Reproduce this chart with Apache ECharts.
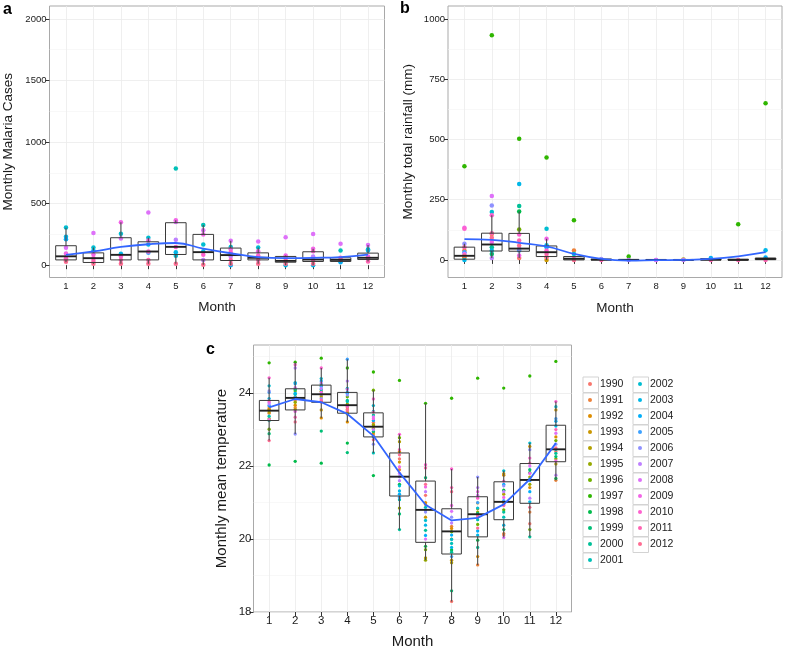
<!DOCTYPE html>
<html>
<head>
<meta charset="utf-8">
<script src="https://cdn.jsdelivr.net/npm/echarts@6/dist/echarts.min.js"></script>
<style>html,body{margin:0;padding:0;background:#fff}#main{width:785px;height:650px}</style>
</head>
<body>
<div id="main"></div>
<script>
// ---------------- data ----------------
const months = [1,2,3,4,5,6,7,8,9,10,11,12];
const years = [1990,1991,1992,1993,1994,1995,1996,1997,1998,1999,2000,2001,2002,2003,2004,2005,2006,2007,2008,2009,2010,2011,2012];

// panel a: monthly malaria cases, points per month as [year, value]
const casesPoints = [
  [[2002,306],[2003,230],[2004,211],[2008,141],[2009,95],[2010,57],[2011,40],[2012,27]],
  [[2008,261],[2002,144],[2003,118],[2009,87],[2010,57],[2011,33],[2012,11]],
  [[2009,348],[2002,255],[2008,217],[2003,92],[2010,71],[2011,43],[2012,11]],
  [[2008,427],[2002,223],[2009,201],[2003,168],[2010,111],[2005,100],[2011,43],[2012,11]],
  [[2001,785],[2009,364],[2008,350],[2007,207],[2010,147],[2003,106],[2002,76],[2012,11]],
  [[2001,326],[2008,283],[2009,250],[2002,168],[2003,114],[2010,84],[2007,43],[2012,3]],
  [[2008,198],[2002,147],[2009,130],[2010,106],[2007,71],[2011,43],[2012,11],[2004,0]],
  [[2008,193],[2002,144],[2009,114],[2010,79],[2011,43],[2012,11]],
  [[2008,226],[2009,79],[2010,60],[2011,38],[2012,11],[2003,0]],
  [[2008,253],[2009,133],[2010,114],[2007,71],[2011,43],[2012,11],[2003,0]],
  [[2008,174],[2001,120],[2010,60],[2011,45],[2004,24]],
  [[2008,163],[2002,130],[2003,120],[2009,71],[2010,52],[2011,30]]
];
// [lower whisker, Q1, median, Q3, upper whisker]
const casesBox = [
  [24,43,72,158,304],[11,22,57,100,144],[11,43,84,223,348],[11,43,111,190,223],
  [11,87,149,345,364],[3,43,106,250,326],[0,38,82,139,198],[11,43,60,100,144],
  [0,24,35,71,79],[0,30,46,109,133],[24,30,43,60,60],[30,46,60,98,163]
];
const casesSmooth = [84,112,148,170,180,134,97,66,58,60,66,85];
const casesTicks = [0,500,1000,1500,2000];
const casesMinor = [250,750,1250,1750];

// panel b: monthly total rainfall (mm)
const rainPoints = [
  [[1997,389],[2009,133],[2010,129],[2006,67],[2011,53],[1991,39],[2005,32],[2008,25],[2012,18],[1993,10],[2003,0]],
  [[1997,933],[2008,265],[2006,226],[2002,199],[2010,185],[2011,111],[1991,108],[2012,92],[2009,74],[2000,53],[2003,39],[1999,25],[2007,8]],
  [[1997,503],[2003,315],[2000,224],[1998,201],[1996,126],[2010,106],[2011,81],[2012,60],[2006,46],[2005,39],[2009,18],[1990,8]],
  [[1997,425],[2002,129],[2009,88],[2003,61],[2004,53],[2010,39],[2011,25],[2012,11],[1993,0]],
  [[1997,165],[1991,39],[2002,25],[2010,4],[2012,0]],
  [[2006,4],[2011,0]],
  [[1997,14],[2007,0]],
  [[2008,0],[2006,0]],
  [[1994,2],[2007,0]],
  [[2004,8],[2011,0]],
  [[1997,148],[2011,0]],
  [[1997,650],[2003,40],[2004,10],[2011,0]]
];
const rainBox = [
  [0,3,17,53,67],[8,37,64,111,185],[8,36,47,110,201],[0,14,32,58,88],
  [0,0,5,14,14],[0,0,1,3,4],[0,0,0,2,2],[0,0,0,1,1],
  [0,0,0,1,2],[0,0,1,5,8],[0,0,0,3,3],[0,1,4,8,10]
];
const rainSmooth = [86,83,71,56,25,4,-3,-1,0,4,15,32];
const rainTicks = [0,250,500,750,1000];
const rainMinor = [125,375,625,875];

// panel c: monthly mean temperature, one value per year (1990..2012) for each month
const tempByMonth = [
  [23.62,23.45,23.57,23.55,23.48,23.30,23.01,24.83,22.03,22.89,23.25,23.37,24.20,23.85,23.66,24.02,24.06,23.70,23.75,23.27,24.42,23.79,22.70],
  [23.80,23.60,23.67,23.90,23.55,23.75,24.06,24.85,22.13,24.10,23.85,23.97,24.29,24.00,24.26,23.88,22.88,24.69,24.15,23.50,24.78,23.34,23.21],
  [23.95,23.78,23.32,23.54,23.90,24.05,24.20,24.96,22.08,22.96,24.25,24.10,24.40,23.98,24.33,24.18,23.85,24.13,24.28,24.02,24.69,23.81,23.76],
  [23.50,23.60,23.21,23.45,23.43,23.70,23.90,24.69,22.63,22.37,23.80,23.77,24.13,24.02,24.00,24.93,23.95,24.33,24.10,23.64,23.66,23.54,23.55],
  [23.20,22.85,22.91,23.03,23.14,23.10,24.08,24.58,21.74,22.95,23.40,22.36,23.66,23.50,23.25,22.80,22.60,23.00,23.35,23.30,23.84,23.48,22.72],
  [22.20,21.90,22.40,22.11,22.67,20.85,22.78,24.35,21.50,20.69,20.26,21.08,21.46,21.32,21.23,21.14,21.71,21.60,21.80,21.98,22.87,22.45,22.31],
  [21.20,20.95,21.00,20.60,19.48,19.42,19.71,23.72,19.80,21.68,20.24,20.87,20.51,20.38,20.10,20.80,20.74,21.30,20.00,21.43,22.04,21.95,21.50],
  [18.29,20.35,20.29,19.42,19.35,20.00,20.20,23.86,19.70,18.58,19.64,19.88,19.99,19.77,20.11,19.52,20.60,20.44,20.76,20.92,21.92,21.41,21.30],
  [20.60,19.29,19.52,20.99,20.83,20.74,20.40,24.41,19.97,20.70,19.77,20.53,20.85,20.11,20.22,21.00,21.70,21.41,21.20,21.30,21.12,20.65,20.30],
  [20.11,20.15,21.75,21.79,21.23,21.00,20.80,24.14,21.34,20.26,20.74,20.60,21.87,20.38,21.50,21.05,21.46,21.30,20.04,21.14,21.59,20.92,20.95],
  [20.42,20.74,21.41,22.54,21.70,21.50,20.26,24.47,21.82,21.90,20.06,21.64,22.63,21.02,21.30,21.60,22.45,21.12,22.00,21.80,22.22,22.08,20.87],
  [22.40,21.61,22.80,23.54,22.06,22.20,22.70,24.87,21.66,22.26,22.35,22.46,23.63,23.10,23.23,23.30,22.60,21.75,22.90,22.14,23.77,23.00,22.50]
];
const tempBox = [
  [22.70,23.25,23.52,23.80,24.42],[22.88,23.54,23.87,24.12,24.85],[23.32,23.75,23.97,24.22,24.69],[23.21,23.45,23.67,24.02,24.93],
  [22.36,22.80,23.08,23.46,24.08],[20.26,21.18,21.71,22.36,22.87],[19.42,19.91,20.80,21.59,23.72],[18.29,19.59,20.21,20.83,21.92],
  [19.29,20.06,20.68,21.16,21.70],[20.04,20.53,21.02,21.57,21.87],[20.06,20.98,21.62,22.07,22.63],[21.61,22.12,22.46,23.12,23.77]
];
const tempSmooth = [23.61,23.84,23.75,23.43,22.83,21.82,20.94,20.51,20.58,20.95,21.64,22.63];
const tempTicks = [18,20,22,24];
const tempMinor = [19,21,23,25];

// ---------------- helpers ----------------
function hcl(h, c, l) {
  const hr = h * Math.PI / 180;
  const U = c * Math.cos(hr), V = c * Math.sin(hr);
  const Xn = 95.047, Yn = 100.0, Zn = 108.883;
  const den = Xn + 15 * Yn + 3 * Zn;
  const un = 4 * Xn / den, vn = 9 * Yn / den;
  const Y = l > 8 ? Yn * Math.pow((l + 16) / 116, 3) : Yn * l / 903.3;
  const u = U / (13 * l) + un, v = V / (13 * l) + vn;
  const X = 9 * Y * u / (4 * v);
  const Z = 3 * Y / v - X / 3 - 5 * Y;
  const x = X / 100, y = Y / 100, z = Z / 100;
  const lin = [
    3.240479 * x - 1.537150 * y - 0.498535 * z,
    -0.969256 * x + 1.875992 * y + 0.041556 * z,
    0.055648 * x - 0.204043 * y + 1.057311 * z
  ];
  return '#' + lin.map(t => {
    let s = t <= 0.0031308 ? 12.92 * t : 1.055 * Math.pow(t, 1 / 2.4) - 0.055;
    s = Math.max(0, Math.min(1, s));
    return Math.round(s * 255).toString(16).padStart(2, '0');
  }).join('');
}
const yearColor = {};
years.forEach((y, i) => { yearColor[y] = hcl(15 + i * 360 / years.length, 100, 65); });

const FONT = 'Liberation Sans, Arial, Helvetica, sans-serif';
const TXT = '#1a1a1a';
const plain = v => String(v);

function boxRender(params, api) {
  const x = api.value(0);
  const half = api.size([0.75, 0])[0] / 2;
  const lo = api.coord([x, api.value(1)]);
  const q1 = api.coord([x, api.value(2)]);
  const md = api.coord([x, api.value(3)]);
  const q3 = api.coord([x, api.value(4)]);
  const hi = api.coord([x, api.value(5)]);
  const wStyle = { stroke: '#4d4d4d', lineWidth: 1.1 };
  return {
    type: 'group',
    children: [
      { type: 'line', shape: { x1: lo[0], y1: lo[1], x2: q1[0], y2: q1[1] }, style: wStyle },
      { type: 'line', shape: { x1: q3[0], y1: q3[1], x2: hi[0], y2: hi[1] }, style: wStyle },
      { type: 'rect', shape: { x: q1[0] - half, y: q3[1], width: 2 * half, height: q1[1] - q3[1] },
        style: { stroke: '#3a3a3a', fill: 'none', lineWidth: 1 } },
      { type: 'line', shape: { x1: md[0] - half, y1: md[1], x2: md[0] + half, y2: md[1] },
        style: { stroke: '#222', lineWidth: 1.9 } }
    ]
  };
}

function xAxisFor(gi, fs, nameFs, nameGap, margin) {
  return {
    gridIndex: gi, type: 'value', min: 0.4, max: 12.6,
    name: 'Month', nameLocation: 'middle', nameGap: nameGap,
    nameTextStyle: { fontFamily: FONT, fontSize: nameFs, color: TXT },
    axisLine: { show: false },
    axisTick: { show: true, customValues: months, length: 4, lineStyle: { color: '#333', width: 1 } },
    axisLabel: { customValues: months, formatter: plain, fontFamily: FONT, fontSize: fs, color: TXT, margin: margin },
    splitLine: { show: true, lineStyle: { color: '#ebebeb', width: 0.8 } }
  };
}
function yAxisFor(gi, min, max, ticks, name, fs, nameFs, nameGap, margin) {
  return {
    gridIndex: gi, type: 'value', min: min, max: max,
    name: name, nameLocation: 'middle', nameGap: nameGap,
    nameTextStyle: { fontFamily: FONT, fontSize: nameFs, color: TXT },
    axisLine: { show: false },
    axisTick: { show: true, customValues: ticks, length: 4, lineStyle: { color: '#333', width: 1 } },
    axisLabel: { customValues: ticks, formatter: plain, fontFamily: FONT, fontSize: fs, color: TXT, margin: margin },
    splitLine: { show: true, lineStyle: { color: '#ebebeb', width: 0.8 } }
  };
}
function yMinorFor(gi, min, max, minor) {
  return {
    gridIndex: gi, type: 'value', min: min, max: max, position: 'left',
    axisLine: { show: false },
    axisTick: { show: false, customValues: minor },
    axisLabel: { show: false, customValues: minor },
    splitLine: { show: true, lineStyle: { color: '#f4f4f4', width: 0.6 } }
  };
}

// ---------------- series ----------------
const series = [];
function addPointSeries(pointsByMonth, xi, yi, size) {
  const byYear = {};
  pointsByMonth.forEach((list, m) => {
    list.forEach(([yr, val]) => {
      (byYear[yr] = byYear[yr] || []).push([months[m], val]);
    });
  });
  years.forEach(yr => {
    if (!byYear[yr]) return;
    series.push({
      type: 'scatter', name: String(yr), xAxisIndex: xi, yAxisIndex: yi,
      symbolSize: size, itemStyle: { color: yearColor[yr], opacity: 1 },
      data: byYear[yr], z: 2, silent: true
    });
  });
}
function addBoxSeries(box, xi, yi) {
  series.push({
    type: 'custom', xAxisIndex: xi, yAxisIndex: yi, renderItem: boxRender, z: 3, silent: true,
    encode: { x: 0, y: [1, 2, 3, 4, 5] },
    data: box.map((b, i) => [months[i]].concat(b))
  });
}
function addSmooth(vals, xi, yi, smooth) {
  series.push({
    type: 'line', xAxisIndex: xi, yAxisIndex: yi, smooth: smooth, symbol: 'none', z: 4, silent: true,
    lineStyle: { color: '#3366FF', width: 1.8 },
    data: vals.map((v, i) => [months[i], v])
  });
}

addPointSeries(casesPoints, 0, 0, 4.5);
addBoxSeries(casesBox, 0, 0);
addSmooth(casesSmooth, 0, 0, 0.45);

addPointSeries(rainPoints, 1, 2, 4.5);
addBoxSeries(rainBox, 1, 2);
addSmooth(rainSmooth, 1, 2, 0.45);

const tempPoints = tempByMonth.map(vals => vals.map((v, i) => [years[i], v]));
addPointSeries(tempPoints, 2, 4, 3.3);
addBoxSeries(tempBox, 2, 4);
addSmooth(tempSmooth, 2, 4, false);

// ---------------- legend ----------------
const legCol1 = years.slice(0, 12).map(String);
const legCol2 = years.slice(12).map(String);
const LEG_TOP = 376, LEG_PITCH = 16, LEG_X1 = 582, LEG_X2 = 632, KEY = 16, DOT = 4;
function legendFor(data, boxLeft) {
  return {
    data: data, orient: 'vertical', left: boxLeft + (KEY - DOT) / 2, top: LEG_TOP, padding: 0, itemGap: 0,
    itemWidth: DOT, itemHeight: DOT, icon: 'circle', selectedMode: false,
    textStyle: { fontFamily: FONT, fontSize: 10.5, color: TXT, lineHeight: LEG_PITCH, padding: [0, 0, 0, 3] }
  };
}
const keyRects = [];
[[legCol1, LEG_X1], [legCol2, LEG_X2]].forEach(([col, x]) => {
  col.forEach((_, i) => {
    keyRects.push({
      type: 'rect', left: x + 0.5, top: LEG_TOP + i * LEG_PITCH + 0.5, z: -1,
      shape: { width: KEY - 0.5, height: KEY - 0.5 },
      style: { fill: '#fff', stroke: '#d3d3d3', lineWidth: 1 }
    });
  });
});

const option = {
  animation: false,
  backgroundColor: '#fff',
  grid: [
    { left: 49.5, top: 6, width: 335, height: 271.5, show: true, borderColor: '#a9a9a9', borderWidth: 1, backgroundColor: '#fff' },
    { left: 448, top: 6, width: 334, height: 271.5, show: true, borderColor: '#a9a9a9', borderWidth: 1, backgroundColor: '#fff' },
    { left: 253.5, top: 345, width: 318, height: 272, show: true, borderColor: '#a9a9a9', borderWidth: 1, backgroundColor: '#fff' }
  ],
  xAxis: [
    xAxisFor(0, 9.5, 13.5, 23, 4),
    xAxisFor(1, 9.5, 13.5, 24, 4),
    xAxisFor(2, 11.5, 15, 22, 3)
  ],
  yAxis: [
    yAxisFor(0, -100, 2105, casesTicks, 'Monthly Malaria Cases', 9.5, 13.5, 34, 3),
    yMinorFor(0, -100, 2105, casesMinor),
    yAxisFor(1, -73, 1054, rainTicks, 'Monthly total rainfall (mm)', 9.5, 13.5, 33, 3),
    yMinorFor(1, -73, 1054, rainMinor),
    yAxisFor(2, 18, 25.32, tempTicks, 'Monthly mean temperature', 11.5, 15, 24, 2),
    yMinorFor(2, 18, 25.32, tempMinor)
  ],
  legend: [legendFor(legCol1, LEG_X1), legendFor(legCol2, LEG_X2)],
  graphic: keyRects.concat([
    { type: 'text', left: 3, top: 2, style: { text: 'a', font: 'bold 16px ' + FONT, fill: '#000' } },
    { type: 'text', left: 400, top: 1, style: { text: 'b', font: 'bold 16px ' + FONT, fill: '#000' } },
    { type: 'text', left: 206, top: 342, style: { text: 'c', font: 'bold 16px ' + FONT, fill: '#000' } }
  ]),
  series: series
};

const chart = echarts.init(document.getElementById('main'), null, { renderer: 'canvas' });
chart.setOption(option);
</script>
</body>
</html>
